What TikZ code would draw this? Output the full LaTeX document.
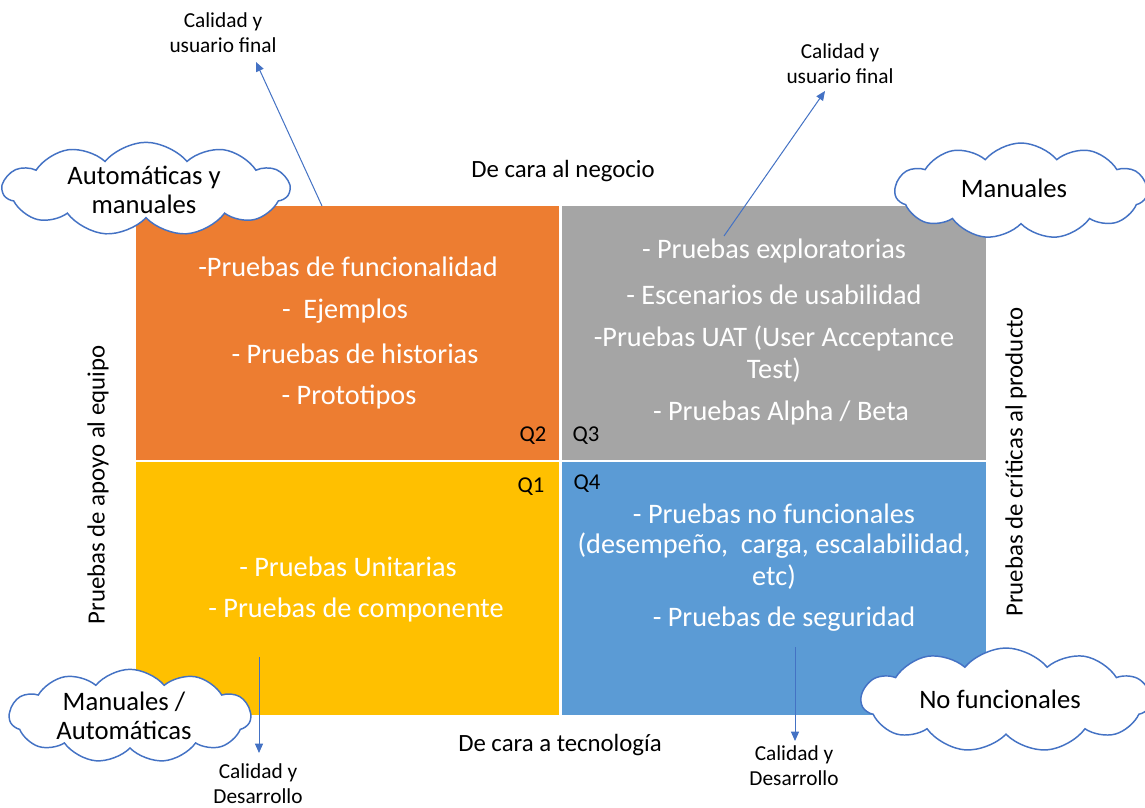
\documentclass[tikz,border=0pt]{standalone}
\usepackage{fontspec}
\setmainfont{Carlito}
\usetikzlibrary{shapes.symbols,arrows.meta}
\definecolor{qorange}{HTML}{ED7D31}
\definecolor{qgray}{HTML}{A5A5A5}
\definecolor{qyellow}{HTML}{FFC000}
\definecolor{qblue}{HTML}{5B9BD5}
\definecolor{lineblue}{HTML}{4472C4}
\begin{document}
\begin{tikzpicture}[x=0.75pt,y=-0.75pt,
  quad/.style={inner sep=0pt,text=white,font=\fontsize{21.2}{25}\selectfont,align=center},
  side/.style={inner sep=0pt,font=\fontsize{18.6}{22}\selectfont},
  qlab/.style={inner sep=0pt,font=\fontsize{17}{20}\selectfont},
  small/.style={inner sep=0pt,font=\fontsize{16}{18.75}\selectfont,align=center},
  cloudbox/.style={cloud,cloud puffs=11,cloud puff arc=100,draw=lineblue,line width=1.1pt,fill=white,
     cloud ignores aspect,inner sep=0pt,align=center},
  cloudtext/.style={inner sep=0pt,font=\fontsize{20}{21.75}\selectfont,align=center},
  arr/.style={draw=lineblue,line width=0.75pt,-{Triangle[length=7pt,width=6pt]}}]
\useasboundingbox (0,0) rectangle (1145,807);
\fill[white] (0,0) rectangle (1145,807);
% quadrants
\fill[qorange] (136,206) rectangle (559,460);
\fill[qgray]   (562,206) rectangle (986,460);
\fill[qyellow] (136,462) rectangle (559,715);
\fill[qblue]   (562,462) rectangle (986,715);
% Q2 text
\node[quad] (o1) at (348,267) {-Pruebas de funcionalidad};
\node[quad] (o2) at (345,311) {-\ \ Ejemplos};
\node[quad] (o3) at (355,354) {- Pruebas de historias};
\node[quad] (o4) at (349,397) {- Prototipos};
% Q3 text
\node[quad] (g1) at (774,251) {- Pruebas exploratorias};
\node[quad] (g2) at (774,295) {- Escenarios de usabilidad};
\node[quad] (g3) at (774,338) {-Pruebas UAT (User Acceptance};
\node[quad] (g4) at (774,370) {Test)};
\node[quad] (g5) at (781,413) {- Pruebas Alpha / Beta};
% Q1 text
\node[quad] (y1) at (348,567) {- Pruebas Unitarias};
\node[quad] (y2) at (356,610) {- Pruebas de componente};
% Q4 text
\node[quad] (b1) at (774,514) {- Pruebas no funcionales};
\node[quad] (b2) at (774,546) {(desempeño,\ \ carga, escalabilidad,};
\node[quad] (b3) at (774,577) {etc)};
\node[quad] (b4) at (784,619) {- Pruebas de seguridad};
% Q labels
\node[qlab] (q2) at (533,436) {Q2};
\node[qlab] (q3) at (586,436) {Q3};
\node[qlab] (q1) at (531,487) {Q1};
\node[qlab] (q4) at (587,484) {Q4};
% axis labels
\node[side] (top) at (563,171) {De cara al negocio};
\node[side] (bot) at (560,745) {De cara a tecnología};
\node[side,rotate=90] (left) at (98,485) {Pruebas de apoyo al equipo};
\node[side,rotate=90] (right) at (1016,462) {Pruebas de críticas al producto};
% clouds
\node[cloudbox,minimum width=215,minimum height=70] (c1) at (146,189) {};
\node[cloudtext] (t1) at (144,190) {Automáticas y\\manuales};
\node[cloudbox,minimum width=189,minimum height=72] (c2) at (1021,191) {};
\node[cloudtext] (t2) at (1014,188) {Manuales};
\node[cloudbox,minimum width=181,minimum height=70] (c3) at (130,716) {};
\node[cloudtext] (t3) at (124,716) {Manuales /\\Automáticas};
\node[cloudbox,minimum width=217,minimum height=78] (c4) at (1006,700) {};
\node[cloudtext] (t4) at (1000,699) {No funcionales};
% arrow labels
\node[small] (l1) at (223,33) {Calidad y\\usuario final};
\node[small] (l2) at (840,64) {Calidad y\\usuario final};
\node[small] (l3) at (258,784) {Calidad y\\Desarrollo};
\node[small] (l4) at (794,766) {Calidad y\\Desarrollo};
% arrows
\coordinate (a1s) at (322,206);
\coordinate (a1e) at (256,62);
\coordinate (a2s) at (724,236);
\coordinate (a2e) at (825,91);
\coordinate (a3s) at (259,657);
\coordinate (a3e) at (259,753);
\coordinate (a4s) at (795,647);
\coordinate (a4e) at (795,741);
\draw[arr] (a1s) -- (a1e);
\draw[arr] (a2s) -- (a2e);
\draw[arr] (a3s) -- (a3e);
\draw[arr] (a4s) -- (a4e);
\end{tikzpicture}
\end{document}
